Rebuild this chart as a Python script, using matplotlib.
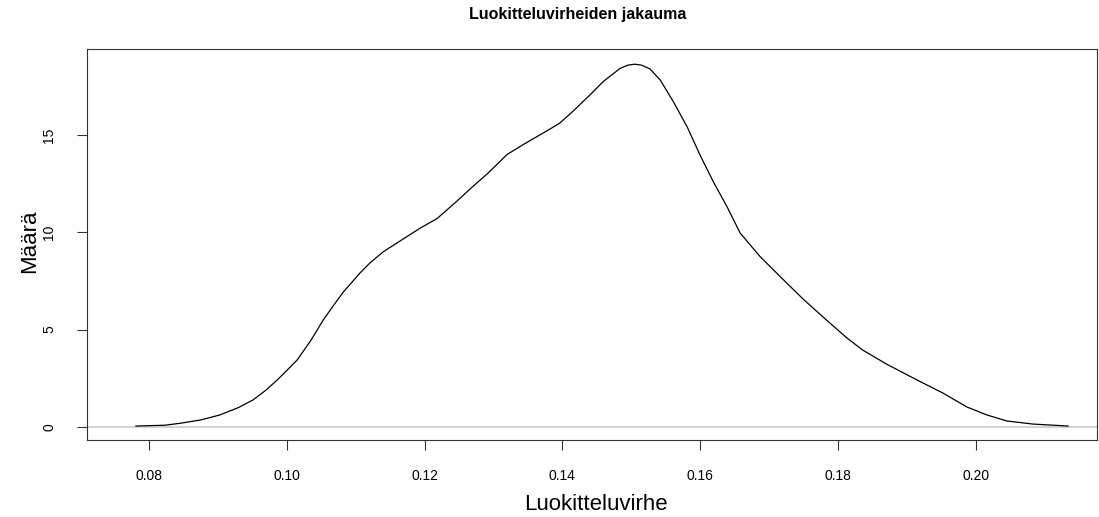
import matplotlib
matplotlib.use("Agg")
import matplotlib.pyplot as plt

plt.rcParams['font.family'] = ['Liberation Sans', 'DejaVu Sans']

title = "Luokitteluvirheiden jakauma"
xlabel = "Luokitteluvirhe"
ylabel = "Määrä"

error_values = [0.0781, 0.0823, 0.0845, 0.0875, 0.0903, 0.0930, 0.0951, 0.0970,
                0.0986, 0.1000, 0.1015, 0.1035, 0.1053, 0.1068, 0.1082, 0.1095,
                0.1106, 0.1120, 0.1140, 0.1160, 0.1193, 0.1218, 0.1247, 0.1270,
                0.1291, 0.1320, 0.1343, 0.1365, 0.1382, 0.1396, 0.1415, 0.1440,
                0.1459, 0.1484, 0.1495, 0.1505, 0.1515, 0.1527, 0.1542, 0.1561,
                0.1581, 0.1600, 0.1619, 0.1639, 0.1658, 0.1687, 0.1726, 0.1750,
                0.1778, 0.1813, 0.1836, 0.1871, 0.1915, 0.1952, 0.1987, 0.2016,
                0.2045, 0.2083, 0.2134]
density = [0.05, 0.09, 0.19, 0.36, 0.62, 1.00, 1.39, 1.90,
           2.41, 2.90, 3.44, 4.45, 5.50, 6.25, 6.93, 7.45,
           7.90, 8.40, 9.00, 9.45, 10.2, 10.7, 11.6, 12.35,
           13.0, 14.0, 14.5, 14.95, 15.3, 15.6, 16.2, 17.05,
           17.73, 18.42, 18.58, 18.63, 18.58, 18.39, 17.82, 16.71,
           15.42, 13.95, 12.6, 11.31, 9.96, 8.75, 7.38, 6.55,
           5.66, 4.57, 3.95, 3.22, 2.41, 1.75, 1.03, 0.62,
           0.31, 0.15, 0.05]

x_ticks = [0.08, 0.10, 0.12, 0.14, 0.16, 0.18, 0.20]
x_ticklabels = ["0.08", "0.10", "0.12", "0.14", "0.16", "0.18", "0.20"]
y_ticks = [0, 5, 10, 15]
y_ticklabels = ["0", "5", "10", "15"]

fig = plt.figure(figsize=(10.99, 5.17), dpi=100)
ax = fig.add_axes([87/1099, 1-440/517, (1097-87)/1099, (440-49)/517])

ax.axhline(0, color="#d3d3d3", lw=1.5, zorder=1)
ax.plot(error_values, density, color="black", lw=0.9, zorder=2,
        solid_joinstyle="round")

ax.set_xlim(0.0710, 0.2176)
ax.set_ylim(-0.668, 19.41)

ax.set_xticks(x_ticks)
ax.set_xticklabels(x_ticklabels, fontsize=10)
ax.set_yticks(y_ticks)
ax.set_yticklabels(y_ticklabels, fontsize=10, rotation=90, va="center")
ax.tick_params(axis="both", direction="out", length=7, width=0.8, color="#333333")
ax.tick_params(axis="x", pad=14)
ax.tick_params(axis="y", pad=15)

for sp in ax.spines.values():
    sp.set_color("#333333")
    sp.set_linewidth(0.8)

fig.text(578/1099, 1-15/517, title, ha="center", va="center", fontsize=11.5, fontweight="bold")
fig.text(596/1099, 1-505/517, xlabel, ha="center", va="center", fontsize=16)
fig.text(30/1099, 1-241/517, ylabel, ha="center", va="center", fontsize=16, rotation=90)

fig.savefig("out.png", dpi=100)
